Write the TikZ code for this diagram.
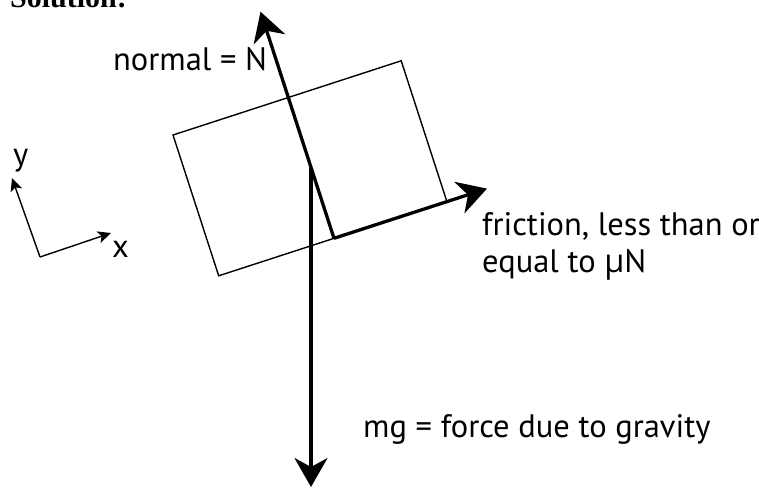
\documentclass[tikz,border=0pt]{standalone}
\usepackage{fontspec}
\setmainfont{PT Sans}
\newfontfamily\solfont{Liberation Serif}
\newfontfamily\grkfont{Open Sans}
\usetikzlibrary{arrows.meta}
\begin{document}
\begin{tikzpicture}[x=1pt,y=-1pt,
  force/.style={line width=3.3pt,-{Stealth[length=29pt,width=33pt,inset=9pt]}},
  axis/.style={line width=1.4pt,-{Stealth[length=13pt,width=12pt,inset=3pt]}},
  block/.style={line width=1.4pt,line join=miter},
  lbl/.style={font=\fontsize{32.5}{37}\selectfont,inner sep=0pt,anchor=base west}]
\useasboundingbox (0,0) rectangle (759,488);
% block corners
\coordinate (A) at (173,135);
\coordinate (B) at (401.2,60.8);
\coordinate (C) at (446.9,201.6);
\coordinate (D) at (218.7,275.8);
\draw[block] (A) -- (B) -- (C) -- (D) -- cycle;
% forces
\coordinate (P) at (334,238.3);
\coordinate (Ntip) at (260.5,11.7);
\coordinate (Ftip) at (487,188.6);
\coordinate (G0) at (311,168);
\coordinate (Gtip) at (311,487);
\draw[force] (P) -- (Ntip);
\draw[force] (P) -- (Ftip);
\draw[force] (G0) -- (Gtip);
% axes
\coordinate (O) at (40,257);
\coordinate (Ytip) at (12,178);
\coordinate (Xtip) at (111,233);
\draw[axis] (O) -- (Xtip);
\draw[axis] (O) -- (Ytip);
% labels
\node[lbl,font=\fontsize{30}{36}\selectfont] (sol) at (10,7) {\solfont\bfseries Solution:};
\node[lbl] (nlab) at (113,70.5) {normal = N};
\node[lbl] (flab1) at (482,235) {friction, less than or};
\node[lbl] (flab2) at (482,272) {equal to {\grkfont μ}N};
\node[lbl] (glab) at (363,437) {mg = force due to gravity};
\node[lbl] (ylab) at (13,165) {y};
\node[lbl] (xlab) at (112,257) {x};
\end{tikzpicture}
\end{document}
